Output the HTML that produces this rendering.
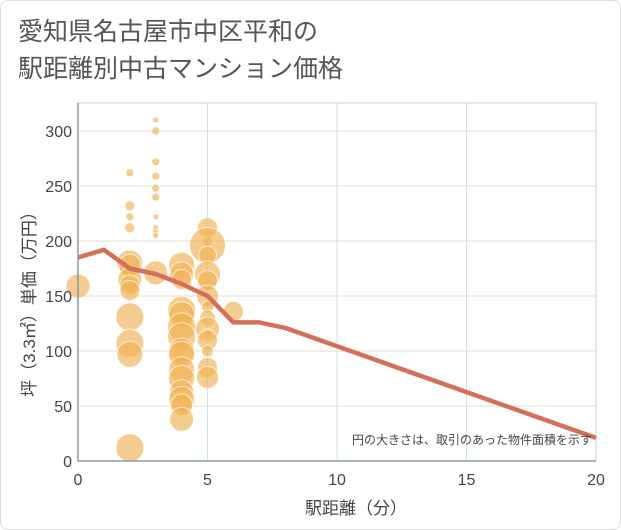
<!DOCTYPE html>
<html><head><meta charset="utf-8"><style>
body{margin:0;background:#fff;font-family:"Liberation Sans","Noto Sans CJK JP",sans-serif}
#wrap{position:absolute;left:0;top:0;width:619px;height:528px;border:1px solid #ddd;border-radius:8px;background:#fff}
</style></head><body>
<div id="wrap">
<svg id="c" width="621" height="530" style="position:absolute;left:-1px;top:-1px">
<text x="18" y="40" font-size="25" fill="#555">愛知県名古屋市中区平和の</text>
<text x="18" y="77" font-size="25" fill="#555">駅距離別中古マンション価格</text>
<g id="grid"></g><g id="bubbles"></g><g id="line"></g><g id="axes"></g>
<text x="592" y="444" font-size="12" fill="#444" text-anchor="end">円の大きさは、取引のあった物件面積を示す</text>
<text x="356" y="514" font-size="17" fill="#444" text-anchor="middle">駅距離（分）</text>
<text transform="translate(35,300) rotate(-90)" font-size="17" fill="#444" text-anchor="middle">坪（3.3㎡）単価（万円）</text>
</svg></div>
<script>
const xTicks=[0,5,10,15,20];
const yTicks=[0,50,100,150,200,250,300];
const lineX=[0,1,2,3,4,5,6,7,8,20];
const lineY=[185,192,175,170,161,150,126,126,121,21];
const bubX=[0,2,2,2,2,2,2,2,2,2,2,2,2,2,3,3,3,3,3,3,3,3,3,3,3,4,4,4,4,4,4,4,4,4,4,4,4,4,4,4,5,5,5,5,5,5,5,5,5,5,5,5,5,5,5,6];
const bubY=[159,262,232,222,212,180,178,165,160,155,131,107,97,12,310,300,272,259,248,240,222,212,208,205,171,178,170,165,137,133,122,113,100,97,83,75,63,56,51,38,212,200,196,187,170,164,150,140,130,120,116,110,100,85,76,136];
const bubR=[12,4,5,4,5,13,11,12,10,10,14,14,13,14,3,4,4,4,4,4,3,3,3,3,12,13,12,10,14,13,14,14,13,13,13,13,12,13,11,12,10,5,18,9,13,10,11,6,8,12,5,10,6,10,11,10];
const X0=78,X1=596,Y0=461,Y1=103;
const sx=v=>X0+(X1-X0)*v/20, sy=v=>Y0-(Y0-131)*v/300;
const NS="http://www.w3.org/2000/svg";
function mk(p,t,a){const e=document.createElementNS(NS,t);for(const k in a)e.setAttribute(k,a[k]);document.getElementById(p).appendChild(e);return e;}
for(const t of yTicks){
 if(t>0){const l=mk('grid','line',{x1:X0,x2:X1,y1:sy(t),y2:sy(t),stroke:'#e2dccb','stroke-width':1});
 
 }
 const tx=mk('axes','text',{x:X0-6,y:sy(t)+6,'text-anchor':'end','font-size':16,fill:'#444'});tx.textContent=t;
 
 
}
for(const t of xTicks){
 if(t>0){const l=mk('grid','line',{x1:sx(t),x2:sx(t),y1:Y1,y2:Y0,stroke:'#d3dde8','stroke-width':1});
 
 }
 const tx=mk('axes','text',{x:sx(t),y:Y0+24,'text-anchor':'middle','font-size':16,fill:'#444'});tx.textContent=t;
 
 
}
const fr=mk('grid','rect',{x:X0,y:Y1,width:X1-X0,height:Y0-Y1,fill:'none',stroke:'#c8d2dc'});


const ax=mk('axes','path',{d:`M${X0} ${Y1}V${Y0}H${X1}`,fill:'none',stroke:'#8a9aaa','stroke-width':1.5});


for(let i=0;i<bubX.length;i++){
 const c=mk('bubbles','circle',{cx:sx(bubX[i]),cy:sy(bubY[i]),r:bubR[i],fill:'rgba(240,178,85,0.66)',stroke:'rgba(255,255,255,0.7)','stroke-width':1});
 
 
}
const pl=mk('line','polyline',{points:lineX.map((x,i)=>sx(x)+','+sy(lineY[i])).join(' '),fill:'none',stroke:'#d4705a','stroke-width':4.5,'stroke-linejoin':'round'});


</script>
</body></html>
